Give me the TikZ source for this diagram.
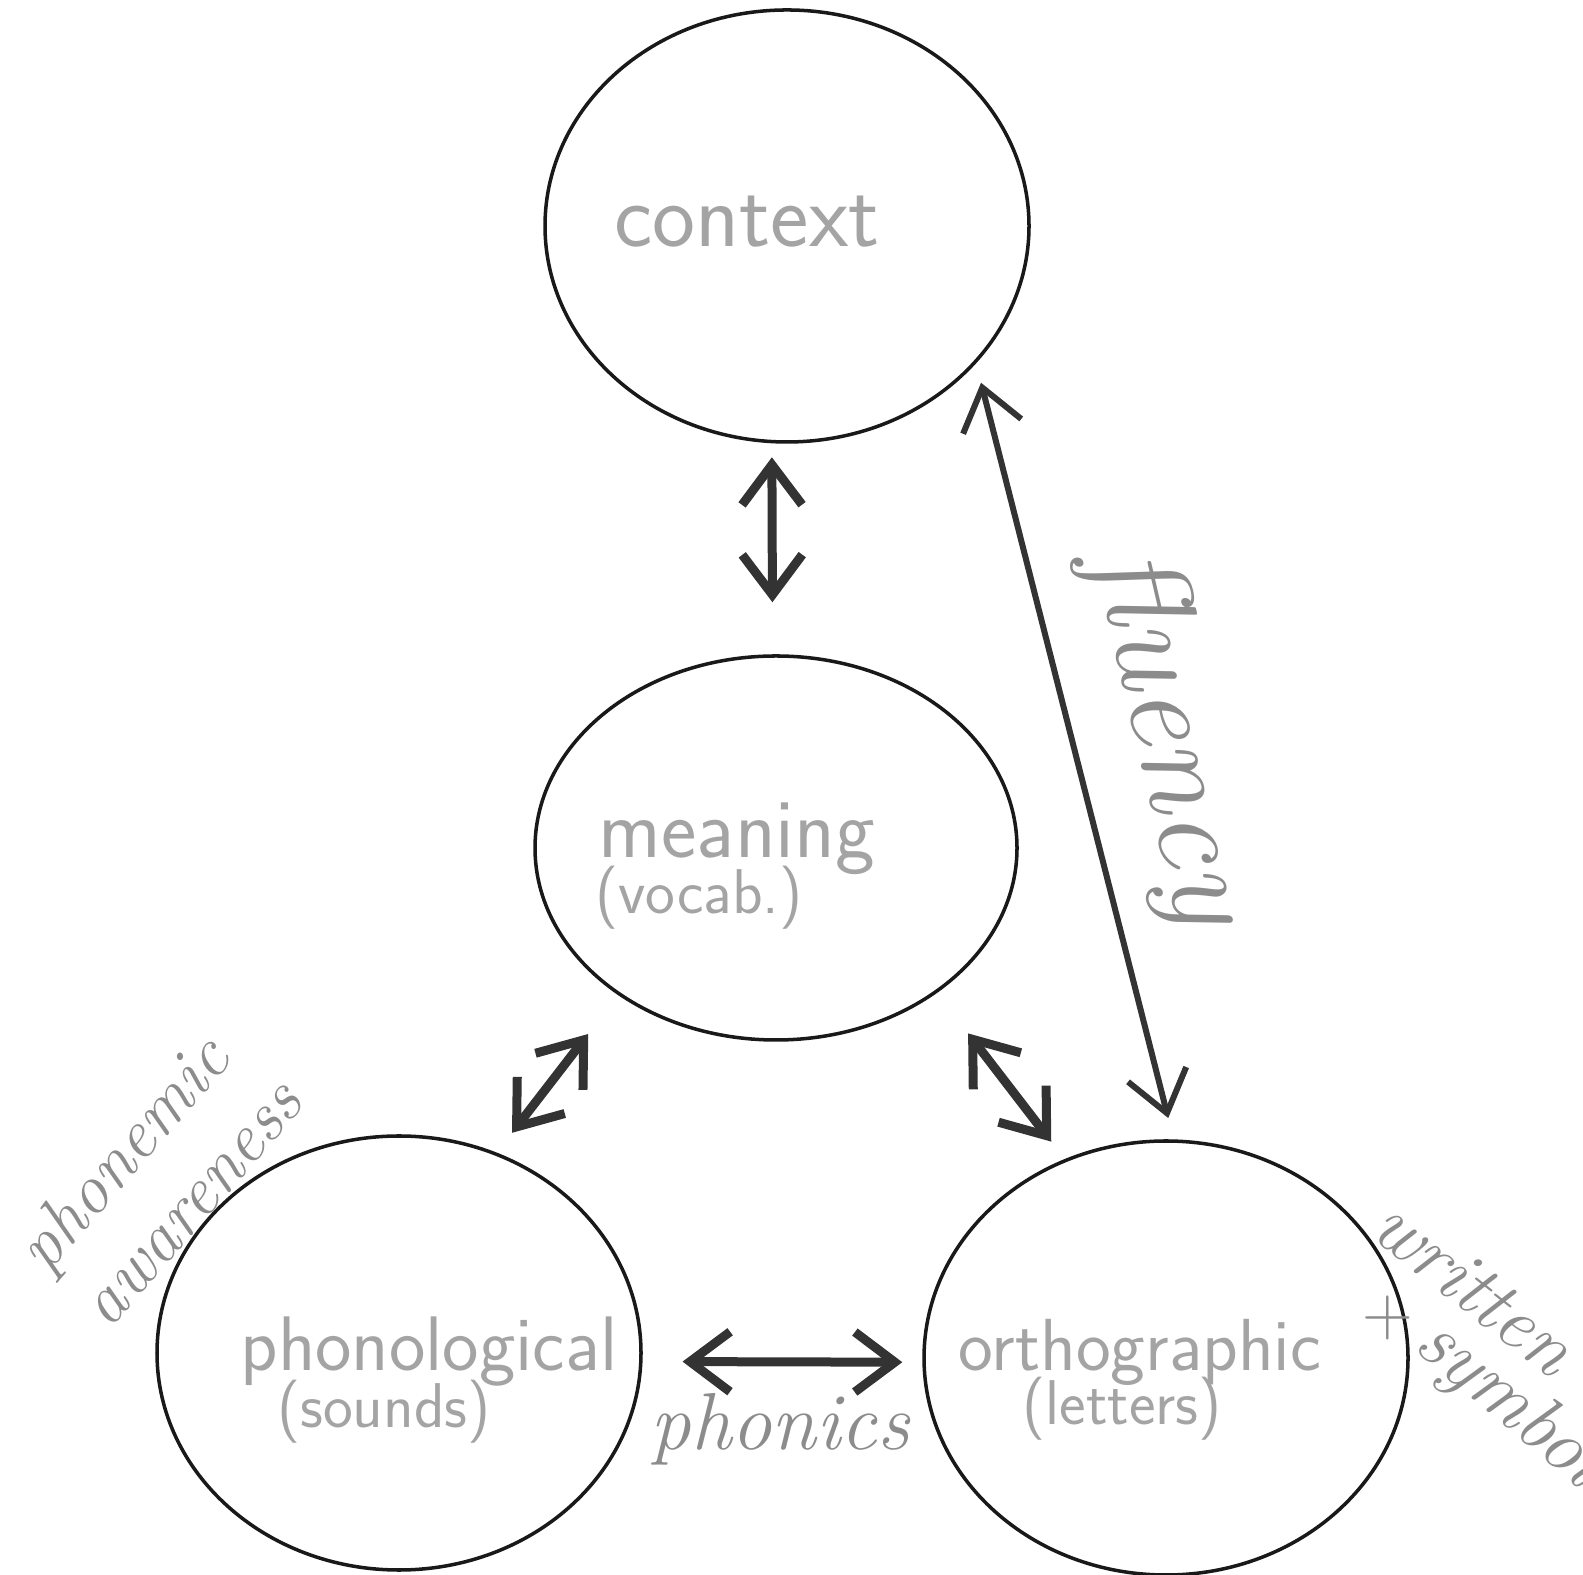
\documentclass[tikz,border=0pt]{standalone}
\usetikzlibrary{arrows.meta,shapes.geometric}

\definecolor{inkgray}{HTML}{333333}
\definecolor{pencil}{HTML}{A4A4A4}
\definecolor{script}{HTML}{8C8C8C}

\tikzset{
	circ/.style={ellipse, draw=black!90, line width=1pt, inner sep=0pt},
	lbl/.style={text=pencil, font=\sffamily\fontsize{22}{26}\selectfont, inner sep=0pt, anchor=base},
	note/.style={text=script, font=\itshape\fontsize{22}{26}\selectfont, inner sep=0pt},
	link/.style={{Straight Barb[length=4mm,width=6mm]}-{Straight Barb[length=4mm,width=6mm]},
		draw=inkgray, line cap=round, line join=round},
}

\begin{document}
\begin{tikzpicture}

	\useasboundingbox (0,0) rectangle (15.83,15.74);

	% the four circles
	\node[circ, minimum width=4.84cm, minimum height=4.32cm] (ctx) at (7.87,13.48) {};
	\node[circ, minimum width=4.82cm, minimum height=3.84cm] (mean) at (7.76,7.26) {};
	\node[circ, minimum width=4.84cm, minimum height=4.34cm] (phon) at (3.99,2.21) {};
	\node[circ, minimum width=4.84cm, minimum height=4.34cm] (orth) at (11.66,2.16) {};

	% texts in the circles
	\node[lbl, font=\sffamily\fontsize{26}{30}\selectfont] (ctxA) at (7.47,13.27) {context};
	\node[lbl, font=\sffamily\fontsize{24}{28}\selectfont] (meanA) at (7.37,7.16) {meaning};
	\node[lbl, font=\sffamily\fontsize{18}{22}\selectfont] (meanB) at (6.99,6.60) {(vocab.)};
	\node[lbl] (phonA) at (4.29,2.03) {phonological};
	\node[lbl, font=\sffamily\fontsize{18}{22}\selectfont] (phonB) at (3.84,1.47) {(sounds)};
	\node[lbl, font=\sffamily\fontsize{21}{25}\selectfont] (orthA) at (11.40,2.03) {orthographic};
	\node[lbl, font=\sffamily\fontsize{18}{22}\selectfont] (orthB) at (11.22,1.49) {(letters)};

	% arrows between the circles
	\foreach \i/\a/\j/\b/\s/\t/\w in {
	ctx/-94/mean/91/1.4/5.2/0.9,
	ctx/-36/orth/88/2.0/2.2/0.6,
	mean/-137/phon/64/4.9/2.5/0.9,
	mean/-42/orth/117/5.1/2.2/0.9,
	phon/-2/orth/181/4.0/2.0/0.9}
	{
		\draw[link, line width=\w mm, shorten <=\s mm, shorten >=\t mm] (\i.\a) -- (\j.\b);
	};

	% notes written round the diagram
	\node[note, font=\itshape\fontsize{23}{27}\selectfont] (phonics) at (7.80,1.45) {phonics};
	\node[note, font=\itshape\fontsize{36}{40}\selectfont, rotate=-77] (fluency) at (11.68,8.37) {fluency};
	\node[note, font=\itshape\fontsize{20}{24}\selectfont, rotate=49, align=left] (aware) at (1.58,4.00) {phonemic\\awareness};
	\node[note, rotate=-38] (ws1) at (14.74,2.87) {written};
	\node[note, font=\fontsize{20}{24}\selectfont] (ws2) at (13.88,2.56) {+};
	\node[note, rotate=-40] (ws3) at (15.08,1.70) {symbol};

\end{tikzpicture}
\end{document}
